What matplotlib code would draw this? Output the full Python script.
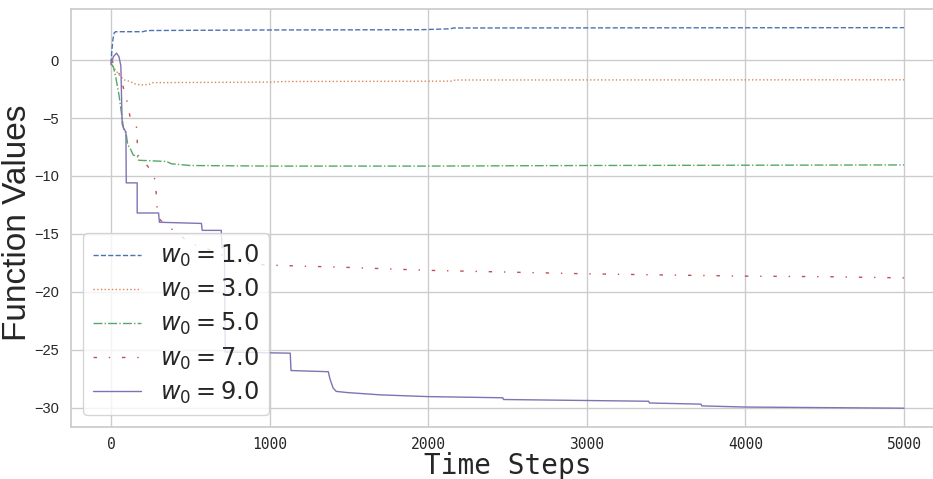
import matplotlib
matplotlib.use("Agg")
import matplotlib.pyplot as plt
import seaborn as sns

# ---- data ----
labels = [r"$w_0 = 1.0$", r"$w_0 = 3.0$", r"$w_0 = 5.0$", r"$w_0 = 7.0$", r"$w_0 = 9.0$"]

blue_x = [0, 5, 12, 20, 30, 200, 230, 1000, 1950, 2140, 2160, 5000]
blue_y = [-0.3, 0.8, 1.8, 2.35, 2.45, 2.45, 2.55, 2.6, 2.62, 2.7, 2.77, 2.8]

orange_x = [0, 10, 30, 60, 80, 120, 150, 190, 240, 260, 1000, 1100, 2150, 2170, 5000]
orange_y = [-0.2, -0.5, -0.9, -1.4, -1.7, -1.85, -2.05, -2.15, -2.1, -1.95, -1.9, -1.85, -1.82, -1.72, -1.7]

green_x = [0, 15, 30, 50, 65, 80, 95, 105, 120, 140, 165, 175, 350, 380, 500, 1000, 2000, 3000, 5000]
green_y = [-0.3, -0.6, -1.5, -3.0, -4.5, -6.0, -6.3, -7.3, -7.6, -8.2, -8.3, -8.65, -8.75, -8.95, -9.1, -9.15, -9.15, -9.1, -9.05]

red_x = [0, 20, 40, 60, 80, 100, 120, 160, 170, 200, 250, 280, 290, 310, 416, 500, 668, 795, 1000, 1500, 2000,
         2500, 3000, 3500, 4000, 4500, 5000]
red_y = [0.0, -0.3, -0.8, -1.5, -2.5, -3.5, -4.9, -5.7, -8.2, -8.6, -9.5, -10.4, -12.7, -13.8, -14.95, -15.8, -16.6,
         -17.5, -17.7, -17.9, -18.15, -18.3, -18.45, -18.55, -18.65, -18.7, -18.8]

purple_x = [0, 15, 35, 50, 62, 66, 70, 80, 94, 96, 165, 165, 300, 305, 570, 575, 695, 700, 715, 720, 1130, 1135,
            1370, 1380, 1400, 1420, 1490, 1700, 2000, 2470, 2475, 3390, 3395, 3720, 3725, 4000, 5000]
purple_y = [-0.4, 0.3, 0.6, 0.3, -0.5, -3.0, -5.5, -5.9, -6.2, -10.6, -10.6, -13.2, -13.2, -14.0, -14.1, -14.7,
            -14.7, -16.2, -16.2, -25.2, -25.3, -26.8, -26.9, -27.5, -28.3, -28.6, -28.7, -28.9, -29.05, -29.15,
            -29.3, -29.45, -29.6, -29.7, -29.85, -29.95, -30.05]

x_ticks = [0, 1000, 2000, 3000, 4000, 5000]
y_ticks = [-30, -25, -20, -15, -10, -5, 0]

series = [(blue_x, blue_y), (orange_x, orange_y), (green_x, green_y), (red_x, red_y), (purple_x, purple_y)]
colors = ["#4C72B0", "#DD8452", "#55A868", "#C44E52", "#8172B3"]
styles = ["--", ":", "-.", (0, (2.5, 8.5, 1, 8.5)), "-"]

sns.set_theme(style="whitegrid")
plt.rcParams["font.family"] = ["Liberation Sans", "DejaVu Sans"]
plt.rcParams["axes.unicode_minus"] = True

fig = plt.figure(figsize=(9.33, 4.79), dpi=100)
ax = fig.add_axes([0.0765, 0.1079, 0.9349, 0.8743])

for (xs, ys), c, ls, lab in zip(series, colors, styles, labels):
    ax.plot(xs, ys, color=c, linestyle=ls, linewidth=1.0, label=lab)

ax.set_xticks(x_ticks)
ax.set_yticks(y_ticks)
ax.set_xlim(-250, 5250)
ax.set_ylim(-31.7, 4.45)
ax.tick_params(axis="y", labelsize=10.5, pad=3)
ax.tick_params(axis="x", pad=1)
for t in ax.get_xticklabels():
    t.set_fontfamily("DejaVu Sans Mono")
    t.set_fontsize(10.5)

ax.set_xlabel("Time Steps", fontsize=20, family="DejaVu Sans Mono", labelpad=0)
ax.set_ylabel("Function Values", fontsize=24)
ax.yaxis.set_label_coords(-0.044, 0.489)

ax.legend(loc="lower left", fontsize=17.28, framealpha=0.8, labelspacing=0.33,
          handlelength=2.0, borderaxespad=0.5)

fig.savefig("out.png", dpi=100)
